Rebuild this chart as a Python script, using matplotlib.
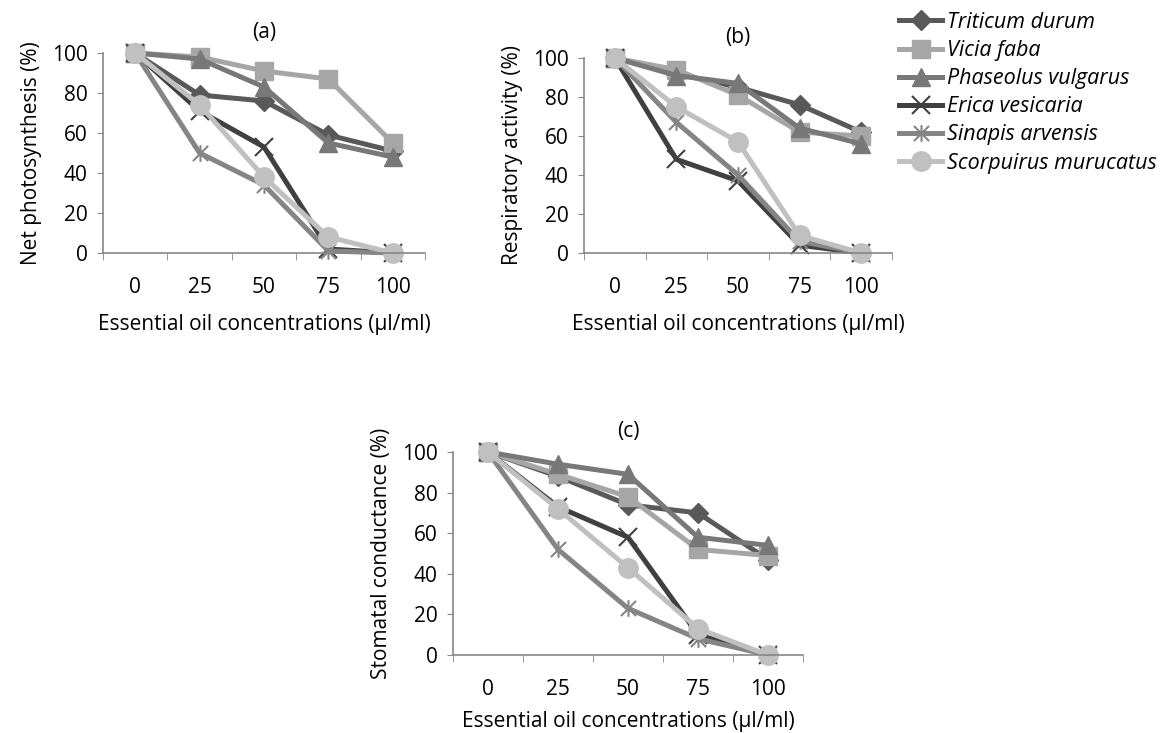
import matplotlib
matplotlib.use("Agg")
import matplotlib.pyplot as plt
from matplotlib.path import Path
from matplotlib.ticker import FixedLocator

plt.rcParams["font.family"] = ["Open Sans", "DejaVu Sans"]

concentrations = ["0", "25", "50", "75", "100"]
species = ["Triticum durum", "Vicia faba", "Phaseolus vulgarus",
           "Erica vesicaria", "Sinapis arvensis", "Scorpuirus murucatus"]

# (a) net photosynthesis
photo_triticum = [100, 79, 76, 59, 51]
photo_vicia = [100, 98, 91, 87, 55]
photo_phaseolus = [100, 97, 83, 55, 48]
photo_erica = [100, 71, 53, 2, 0]
photo_sinapis = [100, 50, 34, 1, 0]
photo_scorpuirus = [100, 74, 38, 8, 0]

# (b) respiratory activity
resp_triticum = [100, 92, 85, 76, 62]
resp_vicia = [100, 94, 81, 62, 60]
resp_phaseolus = [100, 91, 87, 64, 56]
resp_erica = [100, 48, 37, 4, 0]
resp_sinapis = [100, 67, 40, 6, 0]
resp_scorpuirus = [100, 75, 57, 9, 0]

# (c) stomatal conductance
stom_triticum = [100, 88, 74, 70, 47]
stom_vicia = [100, 89, 78, 52, 49]
stom_phaseolus = [100, 94, 89, 58, 54]
stom_erica = [100, 73, 58, 10, 0]
stom_sinapis = [100, 52, 23, 8, 0]
stom_scorpuirus = [100, 72, 43, 13, 0]

# excel style "star": an x with a vertical stroke
star = Path([(-1, -1), (1, 1), (-1, 1), (1, -1), (0, -1.1), (0, 1.1)],
            [Path.MOVETO, Path.LINETO, Path.MOVETO, Path.LINETO, Path.MOVETO, Path.LINETO])

colors = ["#595959", "#a6a6a6", "#787878", "#404040", "#858585", "#c0c0c0"]
markers = ["D", "s", "^", "x", star, "o"]
msizes = [10, 13, 13, 13, 12, 14]

# title, y label, series, axes box in pixels, x label pad
panels = [
    ("(a)", "Net photosynthesis (%)",
     [photo_triticum, photo_vicia, photo_phaseolus, photo_erica, photo_sinapis, photo_scorpuirus],
     [103, 53, 425, 253], 12),
    ("(b)", "Respiratory activity (%)",
     [resp_triticum, resp_vicia, resp_phaseolus, resp_erica, resp_sinapis, resp_scorpuirus],
     [584, 58, 892, 253], 12),
    ("(c)", "Stomatal conductance (%)",
     [stom_triticum, stom_vicia, stom_phaseolus, stom_erica, stom_sinapis, stom_scorpuirus],
     [453, 452, 803, 655], 8),
]

W, H = 1160, 733
fs = 15
fig = plt.figure(figsize=(W / 100, H / 100), dpi=100)

handles = []
for title, ylabel, series, (x0, y0, x1, y1), xpad in panels:
    ax = fig.add_axes([x0 / W, 1 - y1 / H, (x1 - x0) / W, (y1 - y0) / H])
    xs = range(len(concentrations))
    handles = []
    for vals, c, m, ms, name in zip(series, colors, markers, msizes, species):
        thin = m is star or m == "x"
        h, = ax.plot(xs, vals, color=c, lw=3.6, marker=m, markersize=ms,
                     markeredgewidth=1.5 if thin else 1, markeredgecolor=c,
                     label=name, clip_on=False)
        handles.append(h)
    ax.set_xlim(-0.5, len(concentrations) - 0.5)
    ax.set_ylim(0, 100)
    ax.set_yticks([0, 20, 40, 60, 80, 100])
    ax.set_xticks(list(xs))
    ax.set_xticklabels(concentrations)
    ax.xaxis.set_minor_locator(FixedLocator([i - 0.5 for i in range(len(concentrations) + 1)]))
    ax.tick_params(axis="x", which="major", length=0, pad=17, labelsize=fs)
    ax.tick_params(axis="x", which="minor", length=5, color="#868686", direction="out")
    ax.tick_params(axis="y", length=4, color="#868686", labelsize=fs, pad=7)
    for s in ("top", "right"):
        ax.spines[s].set_visible(False)
    for s in ("left", "bottom"):
        ax.spines[s].set_color("#868686")
        ax.spines[s].set_linewidth(1.2)
    ax.set_title(title, fontsize=fs, pad=11)
    ax.set_ylabel(ylabel, fontsize=fs, labelpad=7)
    ax.set_xlabel("Essential oil concentrations (µl/ml)", fontsize=fs, labelpad=xpad)

fig.legend(handles=handles, loc="upper left", bbox_to_anchor=(899 / W, 1 - 12 / H),
           frameon=False, prop={"style": "italic", "size": 15.5},
           handlelength=2.0, handletextpad=0.25, labelspacing=0.33,
           borderaxespad=0, borderpad=0)

fig.savefig("out.png", dpi=100)
